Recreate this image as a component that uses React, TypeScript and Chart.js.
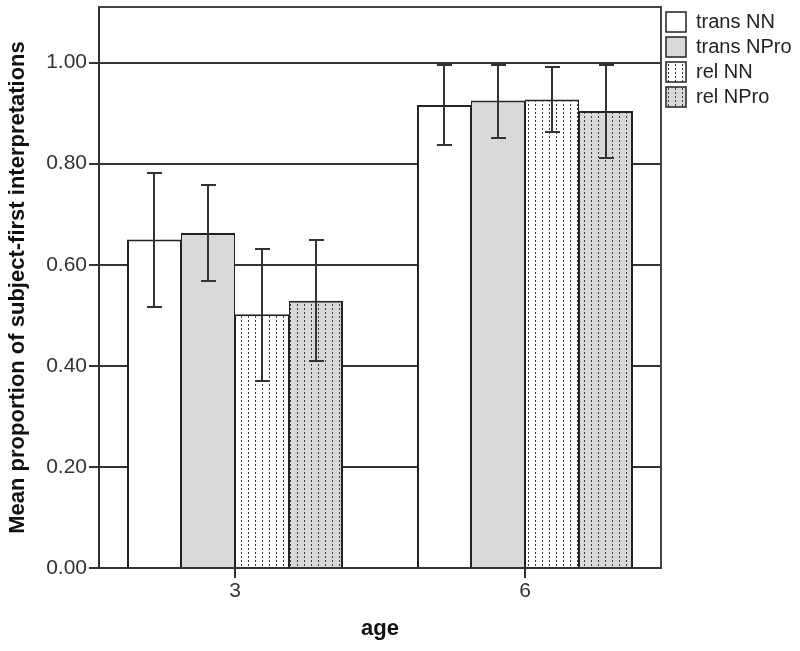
import React, { useEffect, useRef } from "react";
import { Chart, registerables } from "chart.js";

Chart.register(...registerables);

// ---- data ----
const ages = [3, 6];
const seriesNames = ["trans NN", "trans NPro", "rel NN", "rel NPro"];
const transNN = [0.65, 0.916];
const transNPro = [0.663, 0.925];
const relNN = [0.502, 0.927];
const relNPro = [0.529, 0.904];
const transNNLow = [0.517, 0.836];
const transNNHigh = [0.781, 0.996];
const transNProLow = [0.568, 0.851];
const transNProHigh = [0.757, 0.996];
const relNNLow = [0.37, 0.863];
const relNNHigh = [0.632, 0.991];
const relNProLow = [0.41, 0.811];
const relNProHigh = [0.648, 0.996];
const yTicks = [0, 0.2, 0.4, 0.6, 0.8, 1.0];

const GRAY = "#d9d9d9";
const DARK = "#222";

function makePattern(bg: string) {
  const c = document.createElement("canvas");
  c.width = 7;
  c.height = 4;
  const ctx = c.getContext("2d")!;
  ctx.fillStyle = bg;
  ctx.fillRect(0, 0, 7, 4);
  ctx.fillStyle = "#3a3a3a";
  ctx.fillRect(3, 0, 1, 2);
  return ctx.createPattern(c, "repeat")!;
}

const errorBarPlugin = {
  id: "errorBars",
  afterDatasetsDraw(chart: any) {
    const ctx = chart.ctx;
    const yScale = chart.scales.y;
    ctx.save();
    ctx.strokeStyle = "#333";
    ctx.lineWidth = 2;
    chart.data.datasets.forEach((ds: any, di: number) => {
      const meta = chart.getDatasetMeta(di);
      meta.data.forEach((bar: any, i: number) => {
        const lo = Math.round(yScale.getPixelForValue(ds.errLow[i]));
        const hi = Math.round(yScale.getPixelForValue(ds.errHigh[i]));
        const x = Math.round(bar.x);
        ctx.beginPath();
        ctx.moveTo(x, lo);
        ctx.lineTo(x, hi);
        ctx.moveTo(x - 7, lo);
        ctx.lineTo(x + 8, lo);
        ctx.moveTo(x - 7, hi);
        ctx.lineTo(x + 8, hi);
        ctx.stroke();
      });
    });
    ctx.restore();
  },
};

const framePlugin = {
  id: "frame",
  beforeDatasetsDraw(chart: any) {
    const { ctx, chartArea } = chart;
    ctx.save();
    ctx.strokeStyle = "#444";
    ctx.lineWidth = 2;
    ctx.beginPath();
    ctx.moveTo(chartArea.left, chartArea.top);
    ctx.lineTo(chartArea.right, chartArea.top);
    ctx.lineTo(chartArea.right, chartArea.bottom);
    ctx.stroke();
    ctx.restore();
  },
};

export default function App() {
  const ref = useRef<HTMLCanvasElement>(null);

  useEffect(() => {
    const fills = [
      "#ffffff",
      GRAY,
      makePattern("#ffffff"),
      makePattern(GRAY),
    ];
    const values = [transNN, transNPro, relNN, relNPro];
    const lows = [transNNLow, transNProLow, relNNLow, relNProLow];
    const highs = [transNNHigh, transNProHigh, relNNHigh, relNProHigh];
    const last = seriesNames.length - 1;

    const datasets = seriesNames.map((name, si) => ({
      label: name,
      data: ages.map((a, i) => ({ x: a, y: values[si][i] })),
      errLow: lows[si],
      errHigh: highs[si],
      backgroundColor: fills[si],
      borderColor: DARK,
      borderWidth: {
        top: 2,
        left: si === 0 ? 2 : 1,
        right: si === last ? 2 : 1,
        bottom: 0,
      },
      borderSkipped: false,
      barPercentage: 1.0,
      categoryPercentage: 216 / 290,
    }));

    const chart = new Chart(ref.current!, {
      type: "bar",
      data: { datasets } as any,
      options: {
        animation: false,
        responsive: false,
        layout: { padding: { top: 7, right: 0, bottom: 0, left: 0 } },
        plugins: {
          legend: {
            position: "right",
            align: "start",
            maxWidth: 139,
            labels: {
              boxWidth: 20,
              boxHeight: 20,
              padding: 5,
              color: "#222",
              font: { family: "'Liberation Sans', Arial, sans-serif", size: 20 },
              generateLabels(c: any) {
                const items = Chart.defaults.plugins.legend.labels.generateLabels(c);
                items.forEach((it: any) => {
                  it.lineWidth = 1.5;
                  it.strokeStyle = DARK;
                });
                return items;
              },
            },
          },
          tooltip: { enabled: false },
        },
        scales: {
          x: {
            type: "linear",
            min: 3 - 136 / (290 / 3),
            max: 6 + 136 / (290 / 3),
            offset: false,
            afterFit(scale: any) {
              scale.height = 83;
            },
            afterBuildTicks(scale: any) {
              scale.ticks = ages.map((v) => ({ value: v }));
            },
            grid: {
              offset: false,
              drawOnChartArea: false,
              drawTicks: true,
              tickLength: 10,
              color: "#333",
              lineWidth: 2,
            },
            border: { display: true, color: "#333", width: 2 },
            ticks: {
              color: "#333",
              padding: 1,
              font: { family: "'Liberation Sans', Arial, sans-serif", size: 21 },
              callback: (v: any) => String(v),
            },
            title: {
              display: true,
              text: "age",
              color: "#111",
              font: { family: "'Liberation Sans', Arial, sans-serif", size: 22, weight: "bold" },
              padding: { top: 0, bottom: 9 },
            },
          },
          y: {
            min: 0,
            max: 1.11,
            afterFit(scale: any) {
              scale.width = 99;
              scale.paddingTop = 0;
              scale.paddingBottom = 0;
            },
            afterBuildTicks(scale: any) {
              scale.ticks = yTicks.map((v) => ({ value: v }));
            },
            grid: {
              color: "#333",
              lineWidth: 2,
              tickLength: 10,
              drawTicks: true,
            },
            border: { display: true, color: "#333", width: 2 },
            ticks: {
              color: "#333",
              padding: 2,
              font: { family: "'Liberation Sans', Arial, sans-serif", size: 21 },
              callback: (v: any) => Number(v).toFixed(2),
            },
            title: {
              display: true,
              text: "Mean proportion of subject-first interpretations",
              color: "#111",
              font: { family: "'Liberation Sans', Arial, sans-serif", size: 22, weight: "bold" },
              padding: { top: 5, bottom: 0 },
            },
          },
        },
      } as any,
      plugins: [framePlugin, errorBarPlugin],
    });
    return () => chart.destroy();
  }, []);

  return (
    <div style={{ position: "fixed", left: 0, top: 0, width: 800, height: 651, background: "#fff" }}>
      <canvas ref={ref} width={800} height={651} style={{ display: "block" }} />
    </div>
  );
}
